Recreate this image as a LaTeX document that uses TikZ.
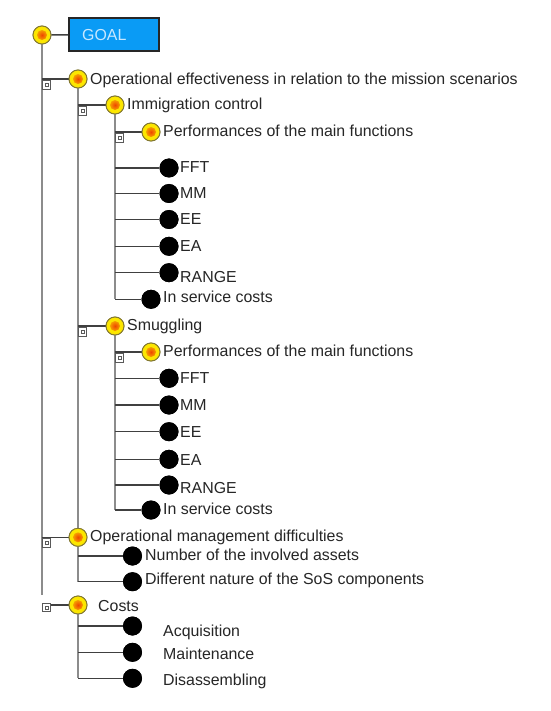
\documentclass[tikz,border=0pt]{standalone}
\usepackage{fontspec}
\setmainfont{Liberation Sans}
\definecolor{ringY}{RGB}{252,230,0}
\definecolor{coreR}{RGB}{238,70,0}
\definecolor{ringO}{RGB}{130,120,50}
\definecolor{goalB}{RGB}{10,155,245}
\definecolor{goalT}{RGB}{200,232,255}
\begin{document}
\begin{tikzpicture}[x=1pt,y=-1pt,
 ycirc/.style={circle, minimum size=18pt, inner sep=0pt, draw=ringO, line width=0.9pt, fill=ringY,
   path picture={\shade[inner color=coreR, outer color=ringY] (path picture bounding box.center) circle (5pt);}},
 bcirc/.style={circle, minimum size=19pt, inner sep=0pt, fill=black},
 xbox/.style={rectangle, minimum size=8.5pt, inner sep=0pt, draw=black!65, line width=0.8pt, fill=white,
   path picture={\draw[black!65, line width=0.6pt] ([xshift=-1.5pt,yshift=-1.5pt]path picture bounding box.center) rectangle ([xshift=1.5pt,yshift=1.5pt]path picture bounding box.center);}},
 vline/.style={draw=black!45, line width=1.5pt},
 hline/.style={draw=black!75, line width=1.5pt},
 lbl/.style={anchor=base west, inner sep=0pt, text=black!85, font=\fontsize{15.9}{18}\selectfont},
]
\fill[white] (0,0) rectangle (550,711);
\useasboundingbox (0,0) rectangle (550,711);

% ---- nodes (circles) ----
\node[ycirc] (g0) at (42,35) {};
\node[draw=black!85, line width=1.8pt, fill=goalB, minimum width=90pt, minimum height=33pt, inner sep=0pt] (goal) at (114,34.5) {};
\node[lbl, text=goalT] (goaltxt) at (82,40.5) {GOAL};

\coordinate (v0) at (42,595);

\node[ycirc] (oe) at (78,79) {};
\node[ycirc] (ic) at (115,105) {};
\node[ycirc] (pf1) at (151,132) {};
\node[bcirc] (fft1) at (169,168) {};
\node[bcirc] (mm1) at (169,193.5) {};
\node[bcirc] (ee1) at (169,219.5) {};
\node[bcirc] (ea1) at (169,246.3) {};
\node[bcirc] (rg1) at (169,272.7) {};
\node[bcirc] (isc1) at (151,299.3) {};
\node[ycirc] (sm) at (115,326) {};
\node[ycirc] (pf2) at (151,352) {};
\node[bcirc] (fft2) at (169,378.3) {};
\node[bcirc] (mm2) at (169,405) {};
\node[bcirc] (ee2) at (169,431.7) {};
\node[bcirc] (ea2) at (169,459.3) {};
\node[bcirc] (rg2) at (169,485) {};
\node[bcirc] (isc2) at (151,510) {};
\node[ycirc] (om) at (78,537.3) {};
\node[bcirc] (na) at (132.5,556) {};
\node[bcirc] (dn) at (132.5,581.7) {};
\node[ycirc] (co) at (78,605) {};
\node[bcirc] (acq) at (132.5,626) {};
\node[bcirc] (mai) at (132.5,652.3) {};
\node[bcirc] (dis) at (132.5,678.3) {};

% vertical lines
\draw[vline] (g0) -- (v0);
\draw[vline] (oe) -- (oe |- dn);
\draw[vline] (co) -- (co |- dis);
\draw[vline] (ic) -- (ic |- isc1);
\draw[vline] (sm) -- (sm |- isc2);

% horizontal lines
\draw[hline] (g0) -- (goal);
\draw[hline] (g0 |- oe) -- (oe);
\draw[hline] (g0 |- om) -- (om);
\draw[hline] (g0 |- co) -- (co);
\draw[hline] (oe |- ic) -- (ic);
\draw[hline] (oe |- sm) -- (sm);
\draw[hline] (ic |- pf1) -- (pf1);
\draw[hline] (ic |- fft1) -- (fft1);
\draw[hline] (ic |- mm1) -- (mm1);
\draw[hline] (ic |- ee1) -- (ee1);
\draw[hline] (ic |- ea1) -- (ea1);
\draw[hline] (ic |- rg1) -- (rg1);
\draw[hline] (ic |- isc1) -- (isc1);
\draw[hline] (sm |- pf2) -- (pf2);
\draw[hline] (sm |- fft2) -- (fft2);
\draw[hline] (sm |- mm2) -- (mm2);
\draw[hline] (sm |- ee2) -- (ee2);
\draw[hline] (sm |- ea2) -- (ea2);
\draw[hline] (sm |- rg2) -- (rg2);
\draw[hline] (sm |- isc2) -- (isc2);
\draw[hline] (om |- na) -- (na);
\draw[hline] (om |- dn) -- (dn);
\draw[hline] (co |- acq) -- (acq);
\draw[hline] (co |- mai) -- (mai);
\draw[hline] (co |- dis) -- (dis);

% expander boxes
\node[xbox] (oe-b) at (46.5,85) {};
\node[xbox] (ic-b) at (82.5,111) {};
\node[xbox] (pf1-b) at (119.5,138) {};
\node[xbox] (sm-b) at (82.5,332) {};
\node[xbox] (pf2-b) at (119.5,358) {};
\node[xbox] (om-b) at (46.5,543) {};
\node[xbox] (co-b) at (46.5,607.5) {};

% redraw circles on top of the connectors
\foreach \n in {g0,oe,ic,pf1,sm,pf2,om,co}{\node[ycirc] at (\n) {};}
\foreach \n in {fft1,mm1,ee1,ea1,rg1,isc1,fft2,mm2,ee2,ea2,rg2,isc2,na,dn,acq,mai,dis}{\node[bcirc] at (\n) {};}

% labels
\node[lbl] (t-oe) at (90,85) {Operational effectiveness in relation to the mission scenarios};
\node[lbl] (t-ic) at (127,109.5) {Immigration control};
\node[lbl] (t-pf1) at (163,136.7) {Performances of the main functions};
\node[lbl] (t-fft1) at (180,172.5) {FFT};
\node[lbl] (t-mm1) at (180,199) {MM};
\node[lbl] (t-ee1) at (180,225) {EE};
\node[lbl] (t-ea1) at (180,251.5) {EA};
\node[lbl] (t-rg1) at (180,282.5) {RANGE};
\node[lbl] (t-isc1) at (163,302.7) {In service costs};
\node[lbl] (t-sm) at (127,330.5) {Smuggling};
\node[lbl] (t-pf2) at (163,356.7) {Performances of the main functions};
\node[lbl] (t-fft2) at (180,383) {FFT};
\node[lbl] (t-mm2) at (180,410) {MM};
\node[lbl] (t-ee2) at (180,437.5) {EE};
\node[lbl] (t-ea2) at (180,465) {EA};
\node[lbl] (t-rg2) at (180,493.3) {RANGE};
\node[lbl] (t-isc2) at (163,514) {In service costs};
\node[lbl] (t-om) at (90,541.7) {Operational management difficulties};
\node[lbl] (t-na) at (145,560.7) {Number of the involved assets};
\node[lbl] (t-dn) at (145,584) {Different nature of the SoS components};
\node[lbl] (t-co) at (98,611) {Costs};
\node[lbl] (t-acq) at (163,636.7) {Acquisition};
\node[lbl] (t-mai) at (163,659.3) {Maintenance};
\node[lbl] (t-dis) at (163,685) {Disassembling};
\end{tikzpicture}
\end{document}
